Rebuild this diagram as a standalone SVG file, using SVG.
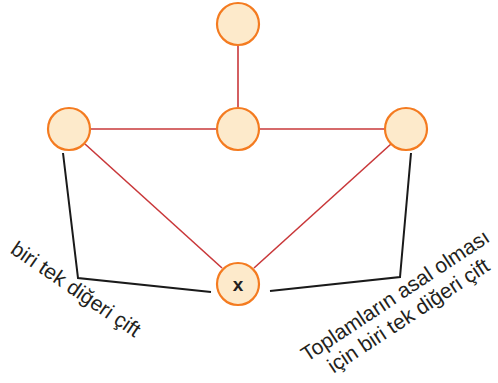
<svg xmlns="http://www.w3.org/2000/svg" width="498" height="383" viewBox="0 0 498 383">
<style>
.n{fill:#fdeacb;stroke:#f47b20;stroke-width:2.2}
.r{stroke:#c9383a;stroke-width:1.6;fill:none}
.k{stroke:#1a1a1a;stroke-width:2;fill:none}
.t{font-family:"Liberation Sans",Arial,sans-serif;font-size:21px;fill:#231f20}
</style>
<rect width="498" height="383" fill="#fff"/>
<g id="connectors">
<line class="r" x1="238" y1="46" x2="238" y2="107"/>
<line class="r" x1="91" y1="129" x2="216" y2="129"/>
<line class="r" x1="260" y1="129" x2="384" y2="129"/>
<line class="r" x1="85" y1="144" x2="222" y2="268"/>
<line class="r" x1="391" y1="144" x2="254" y2="268"/>
<polyline class="k" points="63,153 78,278 211,292"/>
<polyline class="k" points="411,153 400,277 270,291"/>
</g>
<g id="n1"><circle class="n" cx="238" cy="24" r="21"/></g>
<g id="n2"><circle class="n" cx="69" cy="129" r="21"/></g>
<g id="n3"><circle class="n" cx="238" cy="129" r="21"/></g>
<g id="n4"><circle class="n" cx="406" cy="129" r="21"/></g>
<g id="n5"><circle class="n" cx="238" cy="284" r="21"/><text x="238" y="291" text-anchor="middle" style="font-family:'Liberation Sans',Arial,sans-serif;font-size:19px;font-weight:bold;fill:#231f20">x</text></g>
<g id="label-left"><text class="t" text-anchor="middle" transform="translate(72,295) rotate(34.3)">biri tek diğeri çift</text></g>
<g id="label-right" transform="rotate(-33.5 404 309)">
<text class="t" text-anchor="middle" x="404" y="300">Toplamların asal olması</text>
<text class="t" text-anchor="middle" x="404" y="324">için biri tek diğeri çift</text>
</g>
</svg>
